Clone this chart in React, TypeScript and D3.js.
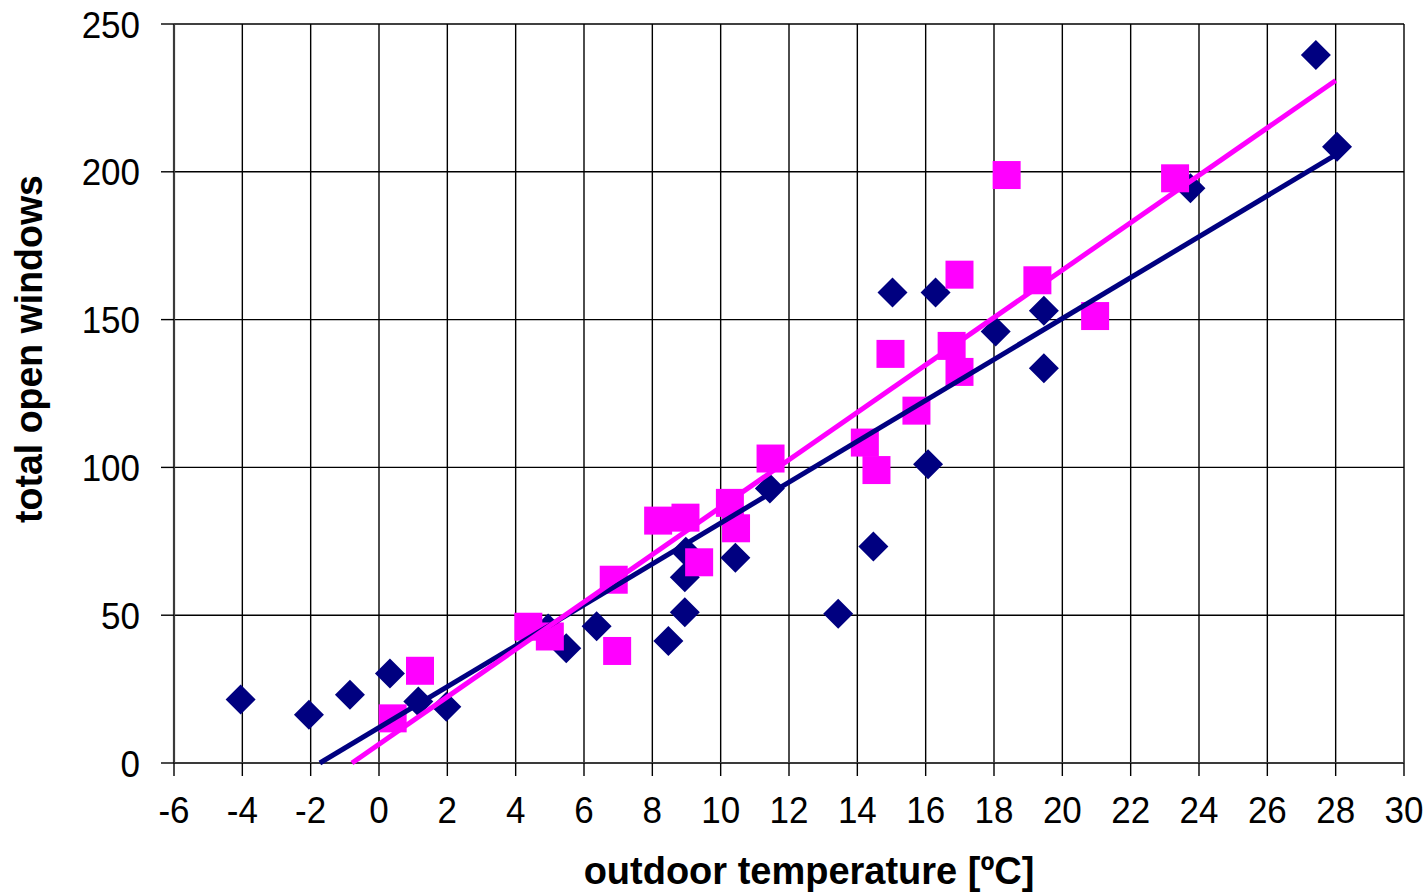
import React, { useEffect, useRef } from "react";
import * as d3 from "d3";

// Blue diamond series (x = outdoor temperature, y = total open windows)
const blueX = [-4.05, -2.05, -0.85, 0.32, 1.15, 1.97, 4.95, 5.48, 6.37, 8.47, 8.95, 8.95, 8.98, 10.43, 11.44, 13.44, 14.47, 15.03, 16.07, 16.29, 18.05, 19.46, 19.46, 23.75, 27.42, 28.04];
const blueY = [21.5, 16.3, 23.1, 30.3, 20.8, 19.0, 45.5, 38.8, 46.3, 41.3, 51.0, 62.8, 71.5, 69.4, 92.9, 50.5, 73.2, 159.2, 101.1, 159.2, 146.0, 153.0, 133.5, 194.4, 239.5, 208.5];

// Magenta square series
const pinkX = [0.4, 1.2, 4.37, 5.0, 6.87, 6.97, 8.17, 8.97, 9.37, 10.27, 10.45, 11.46, 14.22, 14.56, 14.97, 15.73, 16.76, 16.99, 16.99, 18.37, 19.27, 20.96, 23.3];
const pinkY = [15.1, 31.2, 46.1, 42.8, 62.0, 37.9, 82.0, 83.0, 67.9, 88.0, 79.4, 103.0, 108.4, 99.1, 138.4, 119.2, 141.1, 165.2, 132.3, 198.9, 163.3, 151.2, 197.8];

// Linear trendlines (slope, intercept)
const blueTrend = [6.92, 11.97];
const pinkTrend = [8.02, 6.35];
const trendXMax = 28;

const xTicks = [-6, -4, -2, 0, 2, 4, 6, 8, 10, 12, 14, 16, 18, 20, 22, 24, 26, 28, 30];
const yTicks = [0, 50, 100, 150, 200, 250];

const xTitle = "outdoor temperature [ºC]";
const yTitle = "total open windows";

export default function App() {
  const ref = useRef<SVGSVGElement>(null);

  useEffect(() => {
    const svg = d3.select(ref.current);
    svg.selectAll("*").remove();
    const W = 1428, H = 896;
    const left = 174, right = 1404, top = 24, bottom = 763;
    const x = d3.scaleLinear().domain([-6, 30]).range([left, right]);
    const y = d3.scaleLinear().domain([0, 250]).range([bottom, top]);
    const font = "'Liberation Sans', Arial, sans-serif";

    svg.append("rect").attr("width", W).attr("height", H).attr("fill", "#fff");

    // grid
    const g = svg.append("g");
    g.selectAll("line.vx").data(xTicks).join("line")
      .attr("x1", d => x(d)).attr("x2", d => x(d))
      .attr("y1", top).attr("y2", bottom)
      .attr("stroke", "#000").attr("stroke-width", 1.4);
    g.selectAll("line.hy").data(yTicks).join("line")
      .attr("class", "hy")
      .attr("x1", left).attr("x2", right)
      .attr("y1", d => y(d)).attr("y2", d => y(d))
      .attr("stroke", "#000").attr("stroke-width", 1.4);

    // axes lines and ticks
    svg.append("line").attr("x1", left).attr("x2", left).attr("y1", top).attr("y2", bottom)
      .attr("stroke", "#3a3a3a").attr("stroke-width", 2.2);
    svg.append("line").attr("x1", left).attr("x2", right).attr("y1", bottom).attr("y2", bottom)
      .attr("stroke", "#3a3a3a").attr("stroke-width", 2.2);
    svg.append("g").selectAll("line").data(yTicks).join("line")
      .attr("x1", left - 13).attr("x2", left).attr("y1", d => y(d)).attr("y2", d => y(d))
      .attr("stroke", "#000").attr("stroke-width", 1.4);
    svg.append("g").selectAll("line").data(xTicks).join("line")
      .attr("x1", d => x(d)).attr("x2", d => x(d)).attr("y1", bottom).attr("y2", bottom + 13)
      .attr("stroke", "#000").attr("stroke-width", 1.4);

    // tick labels (slightly vertically stretched like the reference)
    svg.append("g").selectAll("text").data(yTicks).join("text")
      .attr("transform", d => `translate(140,${y(d)}) scale(1,1.08)`)
      .attr("dy", "0.36em")
      .attr("text-anchor", "end").attr("font-family", font).attr("font-size", 35)
      .attr("fill", "#000").text(d => String(d));
    svg.append("g").selectAll("text").data(xTicks).join("text")
      .attr("transform", d => `translate(${x(d)},822.5) scale(1,1.08)`)
      .attr("text-anchor", "middle").attr("font-family", font).attr("font-size", 35)
      .attr("fill", "#000").text(d => String(d));

    // axis titles
    svg.append("text").attr("transform", "translate(809,884) scale(1,1.04)")
      .attr("text-anchor", "middle")
      .attr("font-family", font).attr("font-size", 38).attr("font-weight", "bold")
      .text(xTitle);
    svg.append("text").attr("transform", "translate(42,349) rotate(-90) scale(1,1.05)")
      .attr("text-anchor", "middle").attr("font-family", font).attr("font-size", 37.5)
      .attr("font-weight", "bold").text(yTitle);

    // markers
    const blue = blueX.map((v, i) => [v, blueY[i]]);
    const pink = pinkX.map((v, i) => [v, pinkY[i]]);
    const diamond = d3.symbol().type(d3.symbolSquare).size(450);
    svg.append("g").selectAll("path").data(blue).join("path")
      .attr("d", diamond as any)
      .attr("transform", d => `translate(${x(d[0])},${y(d[1])}) rotate(45)`)
      .attr("fill", "#000080");
    const square = d3.symbol().type(d3.symbolSquare).size(784);
    svg.append("g").selectAll("path").data(pink).join("path")
      .attr("d", square as any)
      .attr("transform", d => `translate(${x(d[0])},${y(d[1])})`)
      .attr("fill", "#ff00ff");

    // trendlines (span the full data range, clipped at the y = 0 axis)
    const xMinAll = Math.min(d3.min(blueX)!, d3.min(pinkX)!);
    const line = d3.line<number[]>().x(d => x(d[0])).y(d => y(d[1]));
    const trend = (t: number[], color: string) => {
      const x0 = Math.max(xMinAll, -t[1] / t[0]);
      const pts = [[x0, t[0] * x0 + t[1]], [trendXMax, t[0] * trendXMax + t[1]]];
      svg.append("path").attr("d", line(pts)!).attr("fill", "none")
        .attr("stroke", color).attr("stroke-width", 5);
    };
    trend(blueTrend, "#000080");
    trend(pinkTrend, "#ff00ff");
  }, []);

  return (
    <svg ref={ref} width={1428} height={896}
      style={{ position: "absolute", left: 0, top: 0, display: "block" }} />
  );
}
